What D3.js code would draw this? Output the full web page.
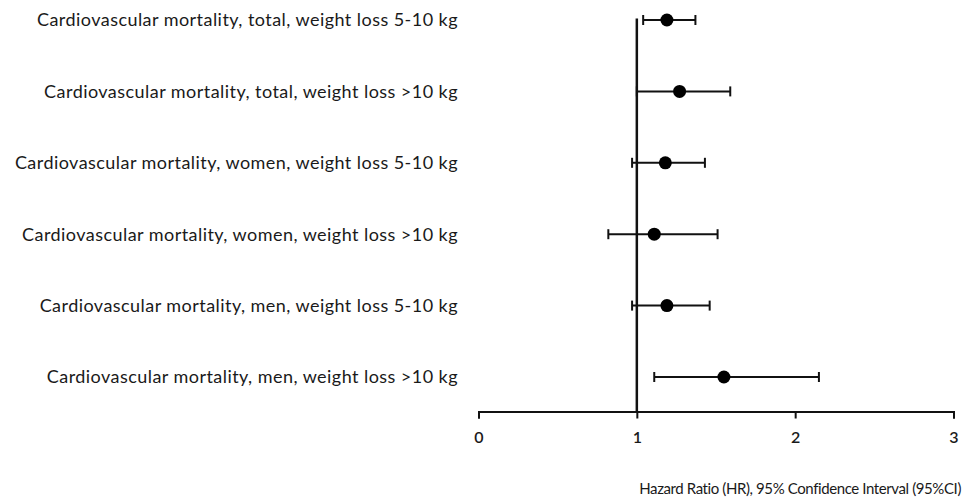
<!DOCTYPE html>
<html>
<head>
<meta charset="utf-8">
<script src="https://cdn.jsdelivr.net/npm/d3@7"></script>
<style>
  body { margin: 0; background: #fff; }
  text { font-family: Lato, "Open Sans", sans-serif; fill: #1a1a1a; }
</style>
</head>
<body>
<div id="chart"></div>
<script>
const svgWidth = 964
const svgHeight = 502

const outcomes = [
  "Cardiovascular mortality, total, weight loss 5-10 kg",
  "Cardiovascular mortality, total, weight loss >10 kg",
  "Cardiovascular mortality, women, weight loss 5-10 kg",
  "Cardiovascular mortality, women, weight loss >10 kg",
  "Cardiovascular mortality, men, weight loss 5-10 kg",
  "Cardiovascular mortality, men, weight loss >10 kg"
]
const hazardRatio = [1.19, 1.27, 1.18, 1.11, 1.19, 1.55]
const ciLower = [1.04, 1.0, 0.97, 0.82, 0.97, 1.11]
const ciUpper = [1.37, 1.59, 1.43, 1.51, 1.46, 2.15]
const xTicks = [0, 1, 2, 3]

let rows = outcomes.map((d, i) => ({
  label: d,
  hr: hazardRatio[i],
  lo: ciLower[i],
  hi: ciUpper[i]
}))

let svg = d3
  .select("#chart")
  .append("svg")
  .attr("width", svgWidth)
  .attr("height", svgHeight)

let x = d3.scaleLinear().domain([0, 3]).range([478.5, 953.5])
let y = d3.scalePoint().domain(outcomes).range([20, 377])
let axisY = 411.5

// reference line at HR = 1
svg
  .append("line")
  .attr("x1", x(1))
  .attr("x2", x(1))
  .attr("y1", y(outcomes[0]) - 1.5)
  .attr("y2", axisY)
  .attr("stroke", "#111")
  .attr("stroke-width", 2.5)

let xAxis = svg
  .append("g")
  .attr("transform", `translate(0, ${axisY})`)
  .call(
    d3.axisBottom(x)
      .tickValues(xTicks)
      .tickFormat(d3.format("d"))
      .tickSize(7)
      .tickSizeOuter(7)
  )

xAxis.select(".domain").attr("stroke", "#111").attr("stroke-width", 2)
xAxis.selectAll(".tick line").attr("stroke", "#111").attr("stroke-width", 2)
xAxis
  .selectAll(".tick text")
  .attr("y", 20)
  .style("font-size", "16px")
  .style("font-weight", "600")
  .style("font-family", "Lato, sans-serif")
  .attr("fill", "#1a1a1a")

// row labels
svg
  .selectAll("text.label")
  .data(rows)
  .enter()
  .append("text")
  .classed("label", true)
  .attr("x", 458)
  .attr("y", d => y(d.label))
  .attr("dy", "0.35em")
  .attr("text-anchor", "end")
  .style("font-size", "18px")
  .style("letter-spacing", "0.45px")
  .text(d => d.label)

let rowGroup = svg
  .selectAll("g.row")
  .data(rows)
  .enter()
  .append("g")
  .classed("row", true)
  .attr("transform", d => `translate(0, ${y(d.label)})`)

rowGroup
  .append("line")
  .attr("x1", d => x(d.lo))
  .attr("x2", d => x(d.hi))
  .attr("stroke", "#111")
  .attr("stroke-width", 2)

rowGroup
  .selectAll("line.cap")
  .data(d => [d.lo, d.hi])
  .enter()
  .append("line")
  .classed("cap", true)
  .attr("x1", d => x(d))
  .attr("x2", d => x(d))
  .attr("y1", -5)
  .attr("y2", 5)
  .attr("stroke", "#111")
  .attr("stroke-width", 2)

rowGroup
  .append("circle")
  .attr("cx", d => x(d.hr))
  .attr("r", 6.5)
  .attr("fill", "#000")

svg
  .append("text")
  .attr("x", 961)
  .attr("y", 494)
  .attr("text-anchor", "end")
  .style("font-size", "15px")
  .style("letter-spacing", "-0.4px")
  .text("Hazard Ratio (HR), 95% Confidence Interval (95%CI)")
</script>
</body>
</html>
